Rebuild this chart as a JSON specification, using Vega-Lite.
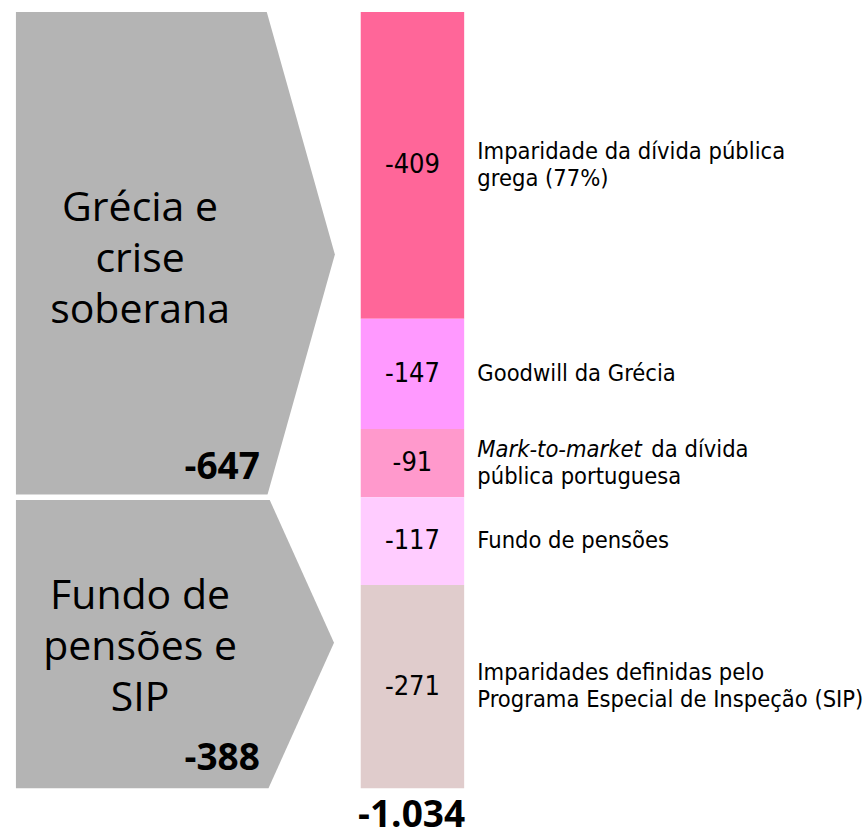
{
  "$schema": "https://vega.github.io/schema/vega-lite/v6.json",
  "width": 865,
  "height": 839,
  "autosize": {"type": "fit", "contains": "padding"},
  "padding": 0,
  "background": "white",
  "config": {"view": {"stroke": null}, "axis": {"disable": true}},
  "datasets": {
    "items": [
      {"order": 1, "label": "-409", "value": -409, "desc": "Imparidade da dívida pública\ngrega (77%)"},
      {"order": 2, "label": "-147", "value": -147, "desc": "Goodwill da Grécia"},
      {"order": 3, "label": "-91", "value": -91, "desc": "\npública portuguesa", "em": "Mark-to-market", "rest": "da dívida"},
      {"order": 4, "label": "-117", "value": -117, "desc": "Fundo de pensões"},
      {"order": 5, "label": "-271", "value": -271, "desc": "Imparidades definidas pelo\nPrograma Especial de Inspeção (SIP)"}
    ],
    "groups": [
      {"lines": "Grécia e\ncrise\nsoberana", "total": "-647", "mid": -323.5, "end": -647},
      {"lines": "Fundo de\npensões e\nSIP", "total": "-388", "mid": -841, "end": -1035}
    ],
    "chevrons": [
      {"grp": "A", "y": 0, "xr": 30.6},
      {"grp": "A", "y": -323.5, "xr": 38.5},
      {"grp": "A", "y": -647, "xr": 30.6},
      {"grp": "B", "y": -647, "xr": 30.8},
      {"grp": "B", "y": -841, "xr": 38.4},
      {"grp": "B", "y": -1035, "xr": 30.8}
    ],
    "total": [{"label": "-1.034", "value": -1034}]
  },
  "layer": [
    {
      "data": {"name": "chevrons"},
      "mark": {"type": "area", "orient": "horizontal", "color": "#B4B4B4"},
      "encoding": {
        "y": {"field": "y", "type": "quantitative", "scale": {"domain": [-1102.67, 16], "nice": false, "zero": false}, "axis": null},
        "x": {"field": "xr", "type": "quantitative", "stack": null, "scale": {"domain": [0, 100], "nice": false, "zero": false}, "axis": null},
        "x2": {"datum": 1.5},
        "detail": {"field": "grp", "type": "nominal"}
      }
    },
    {
      "data": {"name": "groups"},
      "transform": [{"filter": "datum.end == -647"}],
      "mark": {"type": "rule", "color": "white", "strokeWidth": 5.5},
      "encoding": {
        "y": {"field": "end", "type": "quantitative"},
        "x": {"datum": 0, "type": "quantitative"},
        "x2": {"datum": 40}
      }
    },
    {
      "data": {"name": "groups"},
      "mark": {"type": "text", "align": "center", "baseline": "middle", "font": "Open Sans", "fontSize": 41, "lineHeight": 51, "lineBreak": "\n", "color": "black", "dy": -46},
      "encoding": {
        "y": {"field": "mid", "type": "quantitative"},
        "x": {"datum": 15.9, "type": "quantitative"},
        "text": {"field": "lines", "type": "nominal"}
      }
    },
    {
      "data": {"name": "groups"},
      "mark": {"type": "text", "align": "right", "baseline": "middle", "font": "Open Sans", "fontWeight": "bold", "fontSize": 37, "color": "black", "dy": -29},
      "encoding": {
        "y": {"field": "end", "type": "quantitative"},
        "x": {"datum": 29.8, "type": "quantitative"},
        "text": {"field": "total", "type": "nominal"}
      }
    },
    {
      "data": {"name": "items"},
      "transform": [
        {"stack": "value", "groupby": [], "sort": [{"field": "order", "order": "ascending"}], "as": ["y0", "y1"]},
        {"calculate": "(datum.y0 + datum.y1) / 2", "as": "ymid"}
      ],
      "layer": [
        {
          "mark": {"type": "rect"},
          "encoding": {
            "y": {"field": "y0", "type": "quantitative"},
            "y2": {"field": "y1"},
            "x": {"datum": 41.5, "type": "quantitative"},
            "x2": {"datum": 53.5},
            "color": {"field": "label", "type": "nominal", "legend": null, "scale": {"domain": ["-409", "-147", "-91", "-117", "-271"], "range": ["#FF6699", "#FF99FF", "#FF99CC", "#FFCCFF", "#E0CCCC"]}}
          }
        },
        {
          "mark": {"type": "text", "align": "center", "baseline": "middle", "font": "DejaVu Sans Condensed", "fontSize": 27, "color": "black"},
          "encoding": {
            "y": {"field": "ymid", "type": "quantitative"},
            "x": {"datum": 47.5, "type": "quantitative"},
            "text": {"field": "label", "type": "nominal"}
          }
        },
        {
          "transform": [{"filter": "indexof(datum.desc, '\\n') < 0"}],
          "mark": {"type": "text", "align": "left", "baseline": "middle", "font": "DejaVu Sans Condensed", "fontSize": 23.5, "color": "black"},
          "encoding": {
            "y": {"field": "ymid", "type": "quantitative"},
            "x": {"datum": 55.03, "type": "quantitative"},
            "text": {"field": "desc", "type": "nominal"}
          }
        },
        {
          "transform": [{"filter": "indexof(datum.desc, '\\n') >= 0"}],
          "mark": {"type": "text", "align": "left", "baseline": "middle", "font": "DejaVu Sans Condensed", "fontSize": 23.5, "lineHeight": 27, "lineBreak": "\n", "color": "black", "dy": -13.5},
          "encoding": {
            "y": {"field": "ymid", "type": "quantitative"},
            "x": {"datum": 55.03, "type": "quantitative"},
            "text": {"field": "desc", "type": "nominal"}
          }
        },
        {
          "transform": [{"filter": "isValid(datum.em)"}],
          "mark": {"type": "text", "align": "left", "baseline": "middle", "font": "DejaVu Sans Condensed", "fontStyle": "italic", "fontSize": 23.5, "color": "black", "dy": -13.5},
          "encoding": {
            "y": {"field": "ymid", "type": "quantitative"},
            "x": {"datum": 55.03, "type": "quantitative"},
            "text": {"field": "em", "type": "nominal"}
          }
        },
        {
          "transform": [{"filter": "isValid(datum.rest)"}],
          "mark": {"type": "text", "align": "left", "baseline": "middle", "font": "DejaVu Sans Condensed", "fontSize": 23.5, "color": "black", "dy": -13.5, "dx": 174},
          "encoding": {
            "y": {"field": "ymid", "type": "quantitative"},
            "x": {"datum": 55.03, "type": "quantitative"},
            "text": {"field": "rest", "type": "nominal"}
          }
        }
      ]
    },
    {
      "data": {"name": "total"},
      "mark": {"type": "text", "align": "center", "baseline": "alphabetic", "font": "Open Sans", "fontWeight": "bold", "fontSize": 37, "color": "black", "dy": 40},
      "encoding": {
        "y": {"field": "value", "type": "quantitative"},
        "x": {"datum": 47.4, "type": "quantitative"},
        "text": {"field": "label", "type": "nominal"}
      }
    }
  ]
}
